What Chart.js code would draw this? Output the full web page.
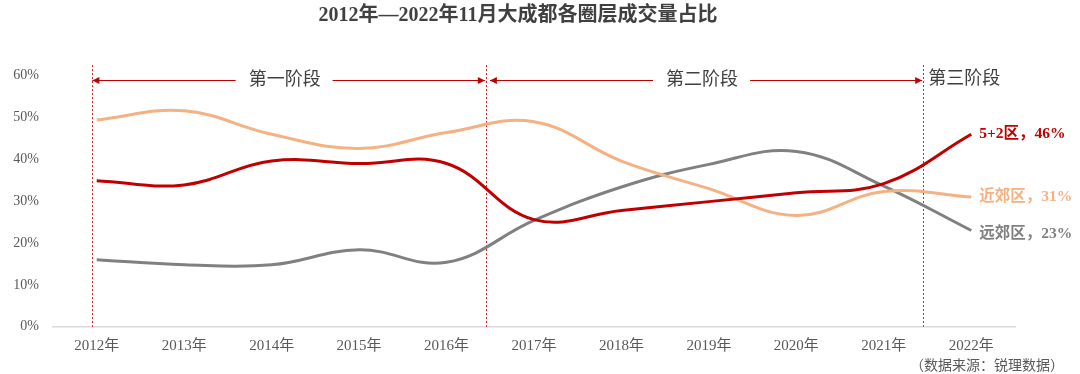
<!DOCTYPE html>
<html>
<head>
<meta charset="utf-8">
<script src="https://cdn.jsdelivr.net/npm/chart.js@4.4.0/dist/chart.umd.min.js"></script>
<style>
  html, body { margin: 0; padding: 0; background: #fff; }
  #wrap { width: 1080px; height: 374px; position: relative; }
</style>
</head>
<body>
<div id="wrap"><canvas id="chart" width="1080" height="374"></canvas></div>
<script>
// Datos (porcentaje de transacciones por anillo)
const years = ['2012年', '2013年', '2014年', '2015年', '2016年', '2017年', '2018年', '2019年', '2020年', '2021年', '2022年'];
const core52 = [34.9, 33.9, 39.6, 39.0, 39.0, 25.6, 27.8, 29.9, 32.0, 34.2, 46];
const nearSuburb = [49.4, 51.6, 46.0, 42.6, 46.4, 49.0, 39.6, 33.0, 26.6, 32.3, 31];
const farSuburb = [16.0, 14.8, 14.8, 18.4, 15.4, 25.4, 33.4, 38.8, 41.9, 33.6, 23];
const yTicks = [0, 10, 20, 30, 40, 50, 60];

// Límites de las etapas (en índice de categoría) y sus nombres
const stageBounds = [-0.05, 4.45, 9.45];
const stageNames = ['第一阶段', '第二阶段', '第三阶段'];
const seriesNames = ['5+2区', '近郊区', '远郊区'];

const title = '2012年—2022年11月大成都各圈层成交量占比';
const sourceNote = '（数据来源：锐理数据）';

const colors = ['#C00000', '#F4B183', '#808080'];
const serif = '"Liberation Serif", "Noto Sans CJK SC", serif';

function arrowHead(ctx, x, y, dir) {
    ctx.beginPath();
    ctx.moveTo(x, y);
    ctx.lineTo(x - dir * 7, y - 3.5);
    ctx.lineTo(x - dir * 7, y + 3.5);
    ctx.closePath();
    ctx.fill();
}

const decorPlugin = {
    id: 'decor',
    beforeDatasetsDraw(chart) {
        const ctx = chart.ctx;
        const xs = chart.scales.x;
        const area = chart.chartArea;
        ctx.save();
        // líneas verticales discontinuas
        ctx.strokeStyle = '#E02020';
        ctx.lineWidth = 1;
        ctx.setLineDash([2, 2]);
        stageBounds.forEach(b => {
            const x = Math.round(xs.getPixelForValue(b)) + 0.5;
            ctx.beginPath();
            ctx.moveTo(x, 65);
            ctx.lineTo(x, area.bottom);
            ctx.stroke();
        });
        ctx.setLineDash([]);

        // flechas de las etapas con texto
        const ay = 80.5;
        ctx.font = '18px ' + serif;
        ctx.textBaseline = 'middle';
        ctx.fillStyle = '#C00000';
        for (let i = 0; i < 2; i++) {
            const x1 = xs.getPixelForValue(stageBounds[i]) + (i === 0 ? 0 : 4);
            const x2 = xs.getPixelForValue(stageBounds[i + 1]) - 1;
            const mid = (x1 + x2) / 2 - 4;
            const tw = ctx.measureText(stageNames[i]).width;
            const g1 = mid - tw / 2 - 13;
            const g2 = mid + tw / 2 + 12;
            ctx.strokeStyle = '#C00000';
            ctx.beginPath();
            ctx.moveTo(x1, ay); ctx.lineTo(g1, ay);
            ctx.moveTo(g2, ay); ctx.lineTo(x2, ay);
            ctx.stroke();
            arrowHead(ctx, x1, ay, -1);
            arrowHead(ctx, x2, ay, 1);
            ctx.save();
            ctx.fillStyle = '#404040';
            ctx.textAlign = 'center';
            ctx.fillText(stageNames[i], mid, ay);
            ctx.restore();
        }
        ctx.fillStyle = '#404040';
        ctx.textAlign = 'left';
        ctx.fillText(stageNames[2], xs.getPixelForValue(stageBounds[2]) + 5, ay - 1);
        ctx.restore();
    },
    afterDraw(chart) {
        const ctx = chart.ctx;
        ctx.save();
        // título
        ctx.fillStyle = '#404040';
        ctx.font = 'bold 20px ' + serif;
        ctx.textAlign = 'center';
        ctx.textBaseline = 'middle';
        ctx.fillText(title, 518, 16);

        // etiquetas al final de cada serie
        ctx.font = 'bold 15.5px ' + serif;
        ctx.textAlign = 'left';
        const offs = [0, 0, 4];
        chart.data.datasets.forEach((ds, i) => {
            const pts = chart.getDatasetMeta(i).data;
            const last = pts[pts.length - 1];
            const v = ds.data[ds.data.length - 1];
            ctx.fillStyle = colors[i];
            ctx.fillText(seriesNames[i] + '，' + v + '%', last.x + 8, last.y + offs[i]);
        });

        // fuente de datos
        ctx.font = '14px ' + serif;
        ctx.fillStyle = '#595959';
        ctx.textAlign = 'right';
        ctx.fillText(sourceNote, 1064, 366);
        ctx.restore();
    }
};

const ctx = document.getElementById('chart').getContext('2d');
new Chart(ctx, {
    type: 'line',
    data: {
        labels: years,
        datasets: [core52, nearSuburb, farSuburb].map((d, i) => ({
            label: seriesNames[i],
            data: d,
            borderColor: colors[i],
            backgroundColor: colors[i],
            borderWidth: 3,
            pointRadius: 0,
            tension: 0.4,
            fill: false
        }))
    },
    options: {
        responsive: false,
        animation: false,
        layout: { padding: { left: 0, right: 65, top: 75.7, bottom: 0 } },
        plugins: {
            legend: { display: false },
            tooltip: { enabled: false },
            title: { display: false }
        },
        scales: {
            x: {
                offset: true,
                grid: { display: false, drawTicks: false },
                border: { display: true, color: '#D9D9D9', width: 1.5 },
                ticks: {
                    color: '#595959',
                    font: { family: serif, size: 15 },
                    padding: 10,
                    maxRotation: 0,
                    autoSkip: false
                },
                afterFit(scale) { scale.height = 47.3; }
            },
            y: {
                min: 0,
                max: 60,
                afterBuildTicks(scale) { scale.ticks = yTicks.map(v => ({ value: v })); },
                grid: { display: false, drawTicks: false },
                border: { display: false },
                ticks: {
                    color: '#595959',
                    font: { family: serif, size: 14 },
                    padding: 14,
                    callback: v => v + '%'
                },
                afterFit(scale) { scale.width = 53; }
            }
        }
    },
    plugins: [decorPlugin]
});
</script>
</body>
</html>
